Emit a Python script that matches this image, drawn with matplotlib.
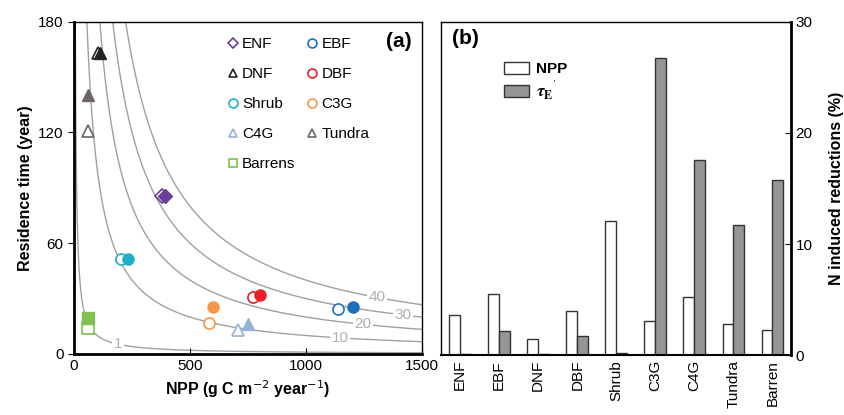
import numpy as np
import matplotlib.pyplot as plt

plt.rcParams['font.family'] = ['Liberation Sans', 'DejaVu Sans']

# panel (a): residence time vs NPP, (open = first run, filled = second run)
biomes = ["ENF", "EBF", "DNF", "DBF", "Shrub", "C3G", "C4G", "Tundra", "Barrens"]
npp_open = [380, 1136, 105, 770, 203, 582, 708, 60, 62]
tau_open = [85.5, 24.2, 163, 31, 51.5, 16.9, 13, 120.5, 13.9]
npp_fill = [392, 1204, 112, 802, 234, 598, 748, 60, 62]
tau_fill = [85.5, 25.6, 163, 32.2, 51.5, 25.6, 16.2, 140, 19.3]
markers = ["D", "o", "^", "o", "o", "o", "^", "^", "s"]
colors = ["#6a3d9a", "#1f6fbf", "#222222", "#e8202a", "#1fb0c8",
          "#f79646", "#95b3d7", "#6b6469", "#7dc150"]
storage_levels = [1, 10, 20, 30, 40]  # kg C m-2
label_x = [190, 1147, 1245, 1418, 1306]

# panel (b): N induced reductions
cats = ["ENF", "EBF", "DNF", "DBF", "Shrub", "C3G", "C4G", "Tundra", "Barren"]
red_npp = [3.6, 5.5, 1.45, 4.0, 12.1, 3.05, 5.2, 2.85, 2.3]
red_tau = [0.15, 2.2, 0.15, 1.7, 0.2, 26.7, 17.55, 11.7, 15.75]

fig = plt.figure(figsize=(8.44, 4.15), dpi=100)
ax1 = fig.add_axes([0.0877, 0.147, 0.4123, 0.801])
ax2 = fig.add_axes([0.523, 0.144, 0.414, 0.804])

# iso-storage curves
for lev, lx in zip(storage_levels, label_x):
    x = np.linspace(lev * 1000 / 180.0, 1500, 600)
    ax1.plot(x, lev * 1000 / x, color="#a0a0a0", lw=1.0, zorder=1)
    ax1.text(lx, lev * 1000 / lx, str(lev), color="#b0b0b0", fontsize=11,
             ha="center", va="center", zorder=2,
             bbox=dict(facecolor="white", edgecolor="none", pad=1))

handles = []
for i, b in enumerate(biomes):
    ms = 7 if markers[i] == "D" else 8
    h, = ax1.plot(npp_open[i], tau_open[i], linestyle="none", marker=markers[i],
                  mfc="white", mec=colors[i], mew=1.2, ms=ms, zorder=3, label=b)
    ax1.plot(npp_fill[i], tau_fill[i], linestyle="none", marker=markers[i],
             mfc=colors[i], mec=colors[i], ms=ms, zorder=4)
    handles.append(h)

order = [0, 2, 4, 6, 8, 1, 3, 5, 7]
leg = ax1.legend([handles[i] for i in order], [biomes[i] for i in order], ncol=2,
                 loc="upper left", bbox_to_anchor=(0.395, 0.995), frameon=False,
                 fontsize=11, handletextpad=0.1, handlelength=1.0,
                 columnspacing=0.6, labelspacing=1.05, markerscale=0.8)

ax1.set_xlim(0, 1500)
ax1.set_ylim(0, 180)
ax1.set_xticks([0, 500, 1000, 1500])
ax1.set_yticks([0, 60, 120, 180])
ax1.tick_params(axis="x", direction="in", labelsize=11, length=4)
ax1.tick_params(axis="y", direction="out", labelsize=11, length=4)
ax1.set_xlabel("NPP (g C m$^{-2}$ year$^{-1}$)", fontsize=11.5, fontweight="bold")
ax1.set_ylabel("Residence time (year)", fontsize=11.5, fontweight="bold")
ax1.text(0.97, 0.94, "(a)", transform=ax1.transAxes, ha="right", va="center",
         fontsize=15, fontweight="bold")
ax1.spines["left"].set_linewidth(2)
ax1.spines["bottom"].set_linewidth(2)
ax1.spines["top"].set_linewidth(1)
ax1.spines["right"].set_linewidth(1)

# bars
pos = np.arange(len(cats))
w = 0.28
ax2.bar(pos - w / 2, red_npp, w, color="white", edgecolor="#333333", lw=1.0, label="NPP")
ax2.bar(pos + w / 2, red_tau, w, color="#959595", edgecolor="#333333", lw=1.0,
        label=r"$\mathbfit{\tau}_{\mathbf{E}}{}^{\mathbf{'}}$")
ax2.set_xlim(-0.48, 8.47)
ax2.set_ylim(0, 30)
ax2.set_xticks(pos)
ax2.set_xticklabels(cats, rotation=90, fontsize=11)
ax2.tick_params(axis="x", length=0)
ax2.yaxis.tick_right()
ax2.yaxis.set_label_position("right")
ax2.set_yticks([0, 10, 20, 30])
ax2.tick_params(axis="y", direction="in", labelsize=11, length=4)
ax2.set_ylabel("N induced reductions (%)", fontsize=11.5, fontweight="bold", labelpad=12)
ax2.text(0.03, 0.95, "(b)", transform=ax2.transAxes, ha="left", va="center",
         fontsize=15, fontweight="bold")
leg2 = ax2.legend(loc="upper left", bbox_to_anchor=(0.14, 0.92), frameon=False,
                  fontsize=11, handlelength=1.6, handleheight=0.8,
                  handletextpad=0.5, labelspacing=0.1)
for t in leg2.get_texts():
    t.set_fontweight("bold")
    t.set_math_fontfamily("stix")
leg2.get_texts()[1].set_fontsize(12.5)
ax2.spines["right"].set_linewidth(2)
ax2.spines["bottom"].set_linewidth(1.5)
ax2.spines["top"].set_linewidth(1)
ax2.spines["left"].set_linewidth(1)

fig.savefig("out.png", dpi=100)
